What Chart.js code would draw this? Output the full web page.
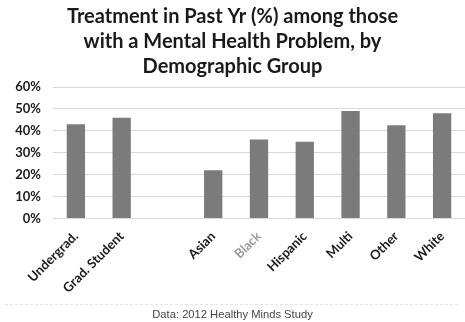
<!DOCTYPE html>
<html>
<head>
<meta charset="utf-8">
<script src="https://cdn.jsdelivr.net/npm/chart.js@4/dist/chart.umd.min.js"></script>
<style>
  html, body { margin: 0; padding: 0; background: #fff; }
  #wrap { width: 465px; height: 322px; }
</style>
</head>
<body>
<div id="wrap"><canvas id="chart"></canvas></div>
<script>
// data (empty slot separates the two groups)
const categories = ['Undergrad.', 'Grad. Student', '', 'Asian', 'Black', 'Hispanic', 'Multi', 'Other', 'White'];
const treatedPct = [43, 46, null, 22, 36, 35, 49, 42.5, 48];
const yTicks = [0, 10, 20, 30, 40, 50, 60];
const titleLines = ['Treatment in Past Yr (%) among those', 'with a Mental Health Problem, by', 'Demographic Group'];
const sourceNote = 'Data: 2012 Healthy Minds Study';

// faint dashed rule above the source note
const footerRule = {
    id: 'footerRule',
    afterDraw(chart) {
        const c = chart.ctx;
        c.save();
        c.strokeStyle = '#e4e4e4';
        c.setLineDash([3, 2]);
        c.beginPath();
        c.moveTo(5, 304.5);
        c.lineTo(460, 304.5);
        c.stroke();
        c.restore();
    }
};

const ctx = document.getElementById('chart').getContext('2d');
new Chart(ctx, {
    type: 'bar',
    data: {
        labels: categories,
        datasets: [{
            data: treatedPct,
            backgroundColor: '#7b7b7b',
            barPercentage: 0.4,
            categoryPercentage: 1.0
        }]
    },
    options: {
        responsive: true,
        maintainAspectRatio: false,
        animation: false,
        layout: { padding: { left: 0, right: 0, top: 2, bottom: 0 } },
        plugins: {
            legend: { display: false },
            tooltip: { enabled: false },
            title: {
                display: true,
                text: titleLines,
                color: '#1a1a1a',
                font: { family: 'Lato', size: 20, weight: 'bold', lineHeight: 1.25 },
                padding: { top: 2, bottom: 8 }
            },
            subtitle: {
                display: true,
                position: 'bottom',
                text: sourceNote,
                color: '#444',
                font: { family: 'Liberation Sans', size: 11.2 },
                padding: { top: 6, bottom: 0 }
            }
        },
        scales: {
            x: {
                grid: { display: false },
                border: { display: false },
                afterFit: (axis) => { axis.height = 84; },
                ticks: {
                    autoSkip: false,
                    maxRotation: 45,
                    minRotation: 45,
                    padding: 2,
                    color: (c) => categories[c.index] === 'Black' ? '#9a9a9a' : '#1a1a1a',
                    font: { family: 'Lato', size: 13, weight: 'bold' }
                }
            },
            y: {
                min: 0,
                max: 60,
                afterBuildTicks: (axis) => { axis.ticks = yTicks.map(v => ({ value: v })); },
                afterFit: (axis) => { axis.width = 53; },
                grid: { color: '#d9d9d9', drawTicks: false },
                border: { display: false },
                ticks: {
                    padding: 12,
                    color: '#1a1a1a',
                    font: { family: 'Lato', size: 13, weight: 'bold' },
                    callback: (v) => v + '%'
                }
            }
        }
    },
    plugins: [footerRule]
});
</script>
</body>
</html>
